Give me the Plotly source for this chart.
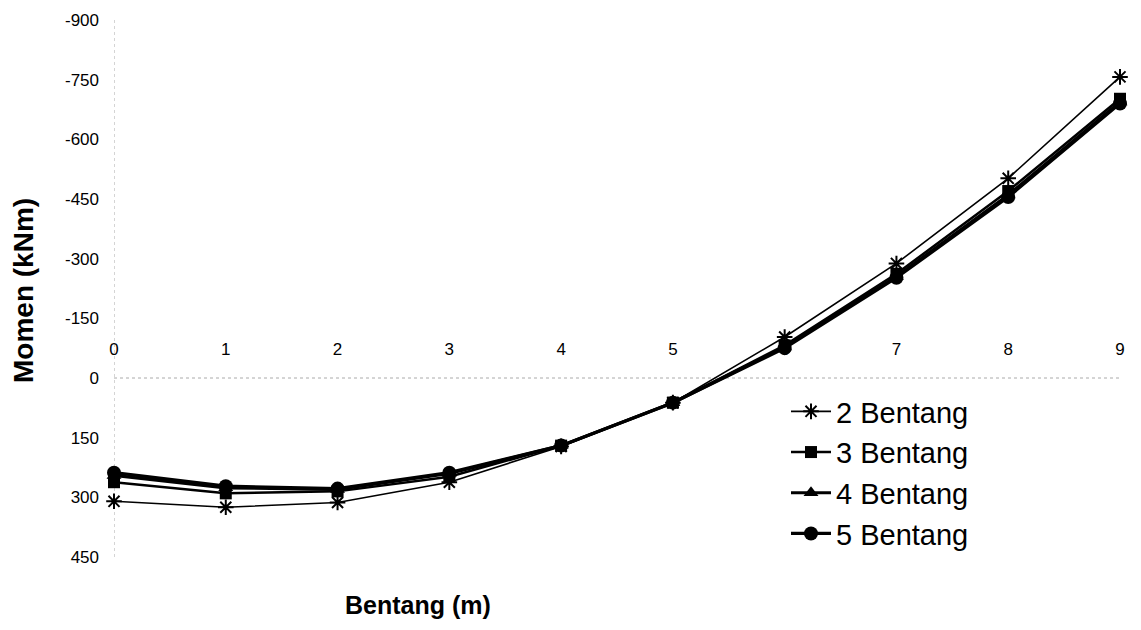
import plotly.graph_objects as go

x_bentang = [0, 1, 2, 3, 4, 5, 6, 7, 8, 9]
series_names = ["2 Bentang", "3 Bentang", "4 Bentang", "5 Bentang"]
m_2 = [310, 325, 313, 262, 172, 62, -103, -288, -502, -757]
m_3 = [262, 290, 285, 248, 170, 62, -82, -262, -470, -702]
m_4 = [245, 276, 280, 240, 170, 62, -78, -255, -460, -694]
m_5 = [238, 272, 278, 238, 170, 62, -75, -252, -455, -690]
y_tickvals = [-900, -750, -600, -450, -300, -150, 0, 150, 300, 450]
y_ticktext = ["-900", "-750", "-600", "-450", "-300", "-150", "0", "150", "300", "450"]
x_ticktext = ["0", "1", "2", "3", "4", "5", "6", "7", "8", "9"]

styles = [
    dict(symbol="asterisk-open", size=13, lw=1.6, mlw=2),
    dict(symbol="square", size=12, lw=2.5, mlw=0),
    dict(symbol="triangle-up", size=13, lw=3.2, mlw=0),
    dict(symbol="circle", size=14, lw=3.2, mlw=0),
]

fig = go.Figure()
for i, (name, ys) in enumerate(zip(series_names, [m_2, m_3, m_4, m_5])):
    s = styles[i]
    fig.add_trace(go.Scatter(
        x=x_bentang, y=ys, name=name, mode="lines+markers",
        line=dict(color="black", width=s["lw"]),
        marker=dict(symbol=s["symbol"], size=s["size"], color="black",
                    line=dict(color="black", width=s["mlw"])),
        cliponaxis=False, legendgroup=name,
    ))

# page body has an 8px margin, so the figure starts at (8, 8)
fig.update_layout(
    width=1125, height=614,
    margin=dict(l=106, r=13, t=12, b=65),
    paper_bgcolor="white", plot_bgcolor="white",
    font=dict(family="Liberation Sans, Arial, sans-serif", color="black", size=17),
    showlegend=True,
    legend=dict(x=(786 - 114) / 1006, y=(557 - 386) / 537, xanchor="left", yanchor="top",
                font=dict(size=29), bgcolor="rgba(0,0,0,0)",
                tracegroupgap=0, itemwidth=40),
    xaxis=dict(range=[0, 9], tickvals=x_bentang, ticktext=x_ticktext,
               side="top", anchor="free", position=450 / 1350,
               showgrid=False, showline=False, ticks="", automargin=False,
               ticklabelstandoff=20, zeroline=False,
               tickfont=dict(size=17)),
    yaxis=dict(range=[450, -900], tickvals=y_tickvals, ticktext=y_ticktext,
               showgrid=False, showline=False, ticks="", automargin=False,
               zeroline=False, tickfont=dict(size=17), ticklabelstandoff=14),
    shapes=[
        dict(type="line", xref="x", yref="paper", x0=0, x1=0, y0=0, y1=1,
             line=dict(color="#aaaaaa", width=1, dash="dot"), layer="below"),
        dict(type="line", xref="paper", yref="y", x0=0, x1=1, y0=0, y1=0,
             line=dict(color="#aaaaaa", width=1, dash="dot"), layer="below"),
    ],
    annotations=[
        dict(text="<b>Bentang (m)</b>", xref="paper", yref="paper",
             x=(418 - 114) / 1006, y=-(605 - 557) / 537,
             xanchor="center", yanchor="middle", showarrow=False,
             font=dict(size=25)),
        dict(text="<b>Momen (kNm)</b>", xref="paper", yref="paper",
             x=-(114 - 23) / 1006, y=(557 - 291) / 537, textangle=-90,
             xanchor="center", yanchor="middle", showarrow=False,
             font=dict(size=28)),
    ],
)

fig.write_html("out.html")
